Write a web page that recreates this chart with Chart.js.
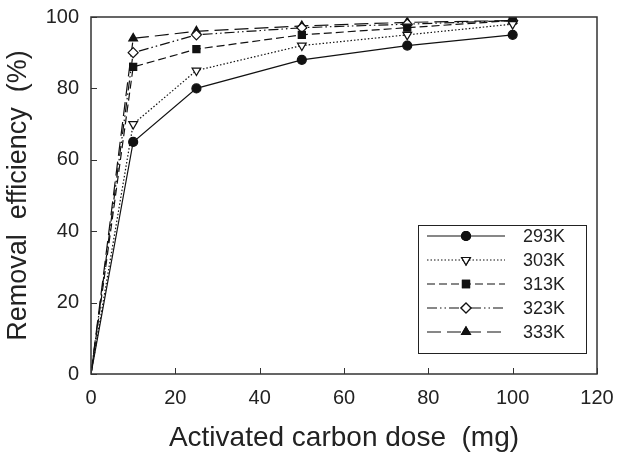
<!DOCTYPE html>
<html>
<head>
<meta charset="utf-8">
<script src="https://cdn.jsdelivr.net/npm/chart.js@4/dist/chart.umd.min.js"></script>
<style>
  html, body { margin: 0; padding: 0; background: #fff; }
  #wrap { width: 619px; height: 456px; }
</style>
</head>
<body>
<div id="wrap"><canvas id="chart" width="619" height="456"></canvas></div>
<script>
// ---- data ----
const doses = [0, 10, 25, 50, 75, 100];
const temps = ['293K', '303K', '313K', '323K', '333K'];
const eff293 = [0, 65, 80, 88, 92, 95];
const eff303 = [0, 70, 85, 92, 95, 98];
const eff313 = [0, 86, 91, 95, 97, 99];
const eff323 = [0, 90, 95, 97, 98, 99];
const eff333 = [0, 94, 96, 97.5, 98.5, 99];
const xTicks = [0, 20, 40, 60, 80, 100, 120];
const yTicks = [0, 20, 40, 60, 80, 100];

const INK = '#111';
const FONT = '"Liberation Sans", Arial, sans-serif';

function pts(ys) {
  return doses.map((x, i) => ({ x, y: ys[i] }));
}

// style per series: dash, marker, filled
const styles = [
  { dash: [], marker: 'circle', fill: true, radius: 4.5 },
  { dash: [1.5, 2], marker: 'triangle', rotation: 180, fill: false, radius: 5 },
  { dash: [8, 4], marker: 'rect', fill: true, radius: 5 },
  { dash: [10, 3, 1.5, 3, 1.5, 3], marker: 'rectRot', fill: false, radius: 5 },
  { dash: [14, 6], marker: 'triangle', fill: true, radius: 5 },
];
const series = [eff293, eff303, eff313, eff323, eff333];

const datasets = series.map((ys, i) => {
  const s = styles[i];
  return {
    label: temps[i],
    data: pts(ys),
    borderColor: INK,
    borderWidth: 1.2,
    borderDash: s.dash,
    pointStyle: s.marker,
    pointRotation: s.rotation || 0,
    pointRadius: (ctx) => (ctx.dataIndex === 0 ? 0 : s.radius),
    pointBackgroundColor: s.fill ? INK : '#fff',
    pointBorderColor: INK,
    pointBorderWidth: 1.2,
    tension: 0,
    fill: false,
  };
});

// frame, inward ticks and legend box
const framePlugin = {
  id: 'frame',
  afterDraw(chart) {
    const { ctx, chartArea: a, scales } = chart;
    ctx.save();
    ctx.strokeStyle = '#333';
    ctx.lineWidth = 1.5;
    ctx.setLineDash([]);
    ctx.strokeRect(a.left, a.top, a.right - a.left, a.bottom - a.top);

    ctx.lineWidth = 1;
    ctx.beginPath();
    xTicks.forEach((v) => {
      const px = Math.round(scales.x.getPixelForValue(v)) + 0.5;
      ctx.moveTo(px, a.bottom);
      ctx.lineTo(px, a.bottom - 6);
    });
    yTicks.forEach((v) => {
      const py = Math.round(scales.y.getPixelForValue(v)) + 0.5;
      ctx.moveTo(a.left, py);
      ctx.lineTo(a.left + 6, py);
    });
    ctx.stroke();

    // legend
    const bx = 418, by = 225, bw = 168, bh = 128;
    ctx.lineWidth = 1;
    ctx.strokeStyle = '#222';
    ctx.strokeRect(bx + 0.5, by + 0.5, bw, bh);
    const rows = [236, 260, 284, 308, 332];
    chart.data.datasets.forEach((ds, i) => {
      const y = rows[i];
      ctx.strokeStyle = INK;
      ctx.lineWidth = 1.2;
      ctx.setLineDash(styles[i].dash);
      ctx.beginPath();
      ctx.moveTo(427, y);
      ctx.lineTo(505, y);
      ctx.stroke();
      ctx.setLineDash([]);
      Chart.helpers.drawPoint(ctx, {
        pointStyle: styles[i].marker,
        rotation: styles[i].rotation || 0,
        radius: styles[i].radius,
        borderWidth: 1.2,
      }, 466, y);
      ctx.fillStyle = styles[i].fill ? INK : '#fff';
      ctx.fill();
      ctx.stroke();
      ctx.fillStyle = '#222';
      ctx.font = '18px ' + FONT;
      ctx.textBaseline = 'middle';
      ctx.textAlign = 'left';
      ctx.fillText(temps[i], 523, y + 1);
    });
    ctx.restore();
  },
};

new Chart(document.getElementById('chart'), {
  type: 'line',
  data: { datasets },
  options: {
    responsive: false,
    animation: false,
    layout: { padding: { top: 17, right: 22, left: 0, bottom: 0 } },
    plugins: { legend: { display: false }, tooltip: { enabled: false } },
    scales: {
      x: {
        type: 'linear',
        min: 0,
        max: 120,
        afterBuildTicks: (s) => { s.ticks = xTicks.map((v) => ({ value: v })); },
        afterFit: (s) => { s.height = 82; },
        grid: { display: false },
        border: { display: false },
        ticks: { color: '#222', font: { family: FONT, size: 20 }, padding: 4 },
        title: {
          display: true,
          text: 'Activated carbon dose  (mg)',
          color: '#222',
          font: { family: FONT, size: 28 },
          padding: { top: 8, bottom: 1 },
        },
      },
      y: {
        min: 0,
        max: 100,
        afterBuildTicks: (s) => { s.ticks = yTicks.map((v) => ({ value: v })); },
        afterFit: (s) => { s.width = 91; },
        grid: { display: false },
        border: { display: false },
        ticks: { color: '#222', font: { family: FONT, size: 20 }, padding: 4 },
        title: {
          display: true,
          text: 'Removal  efficiency  (%)',
          color: '#222',
          font: { family: FONT, size: 27 },
          padding: { top: 2, bottom: 4 },
        },
      },
    },
  },
  plugins: [framePlugin],
});
</script>
</body>
</html>
